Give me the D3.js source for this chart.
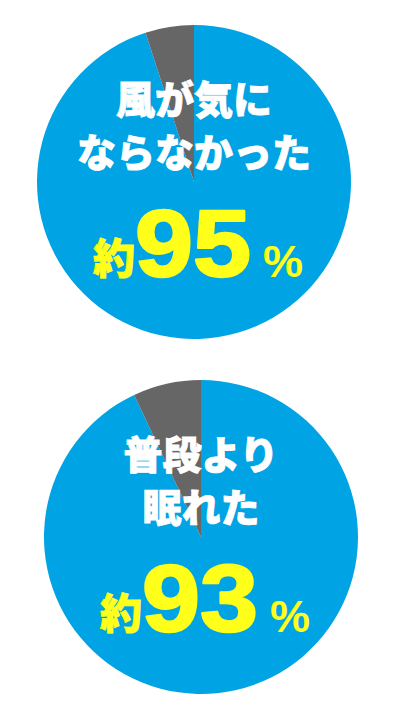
<!DOCTYPE html>
<html><head><meta charset="utf-8">
<script src="https://cdn.jsdelivr.net/npm/d3@7"></script>
<style>html,body{margin:0;padding:0;background:#fff;}svg{display:block;}</style>
</head><body>
<svg id="chart" width="400" height="722"></svg>
<script>
const charts = ["wind", "sleep"];
const labelsLine1 = ["風が気に", "普段より"];
const labelsLine2 = ["ならなかった", "眠れた"];
const yesValues = [95, 93];
const noValues = [5, 7];
const prefix = "約";

const colors = d3.scaleOrdinal().domain(["yes","no"]).range(["#00A3E4","#666666"]);
const centers = [[194,182],[201,537]];
const radius = 157;

const svg = d3.select("#chart");
const pie = d3.pie().sort(null).value(d => d.v);
const arc = d3.arc().innerRadius(0).outerRadius(radius);
const cjk = "'Noto Sans CJK JP', 'Noto Sans', sans-serif";
const latin = "'Liberation Sans', Arial, sans-serif";
const yellow = "#FFFF1A";

charts.forEach((c, i) => {
  const [cx, cy] = centers[i];
  const g = svg.append("g").attr("transform", `translate(${cx},${cy})`);
  const data = [{k:"yes", v: yesValues[i]}, {k:"no", v: noValues[i]}];
  g.selectAll("path").data(pie(data)).join("path")
    .attr("d", arc).attr("fill", d => colors(d.data.k));

  [[labelsLine1[i], -85], [labelsLine2[i], -32]].forEach(([t, y]) => {
    g.append("text").text(t)
      .attr("x", 0).attr("y", y).attr("text-anchor","middle")
      .attr("dominant-baseline","central")
      .attr("font-family", cjk).attr("font-weight", 900).attr("font-size", 39)
      .attr("fill", "#fff").attr("stroke", "#fff").attr("stroke-width", 0.8);
  });

  g.append("text").text(prefix)
    .attr("x", -101).attr("y", 73).attr("dominant-baseline","central")
    .attr("font-family", cjk).attr("font-weight", 900).attr("font-size", 42)
    .attr("fill", yellow).attr("stroke", yellow).attr("stroke-width", 0.8);
  g.append("text").text(String(yesValues[i]))
    .attr("x", -59).attr("y", 94)
    .attr("font-family", latin).attr("font-weight", 700).attr("font-size", 95)
    .attr("textLength", 116).attr("lengthAdjust","spacingAndGlyphs")
    .attr("fill", yellow).attr("stroke", yellow).attr("stroke-width", 2.5)
    .attr("stroke-linejoin", "round");
  g.append("text").text("%")
    .attr("x", 69).attr("y", 95)
    .attr("font-family", latin).attr("font-weight", 700).attr("font-size", 45)
    .attr("fill", yellow);
});
</script>
</body></html>
